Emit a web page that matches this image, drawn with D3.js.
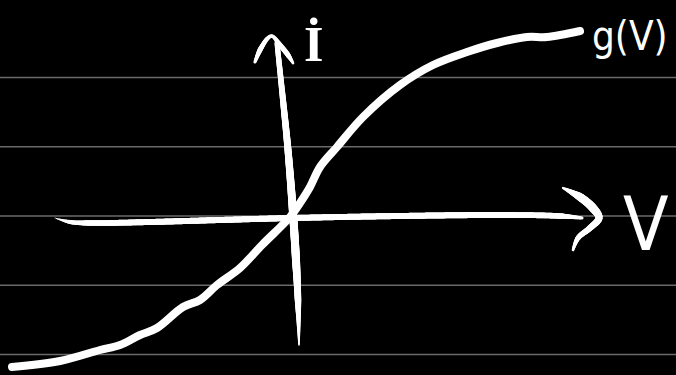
<!DOCTYPE html>
<html>
<head>
<meta charset="utf-8">
<script src="https://cdn.jsdelivr.net/npm/d3@7"></script>
<style>
  html, body { margin: 0; padding: 0; background: #000; }
  svg { display: block; }
</style>
</head>
<body>
<svg id="chart" width="676" height="375"></svg>
<script>
// Ruled paper lines (current units)
const ruleI = [13.85, 6.92, 0, -6.93, -13.85];

// g(V): sketched current–voltage characteristic
const curveV = [-28.1, -23.3, -19.3, -17.3, -15.3, -13.6, -11.0, -9.3, -7.6, -5.3, -3.1, -0.3,
                 0.7, 1.7, 2.7, 4.4, 7.0, 10.7, 14.0, 17.4, 20.4, 23.4, 25.4, 28.7];
const curveI = [-15.1, -14.5, -13.4, -12.9, -11.9, -11.2, -9.1, -8.4, -6.9, -5.2, -2.9, -0.1,
                 1.3, 2.9, 4.9, 6.9, 9.9, 13.1, 15.1, 16.4, 17.3, 17.9, 17.9, 18.5];

// Hand-drawn axes: [V, I, pen width]
const vAxisStroke = [[-23.8, -0.2, 0.5], [-22.3, -0.6, 4], [-20.3, -0.7, 5.5], [-14.3, -0.6, 6],
                     [-7.3, -0.4, 6], [0, -0.2, 6], [10.7, 0, 6], [20.7, 0.1, 6], [26.7, 0, 5.5], [28.9, -0.2, 3]];
const vArrowStroke = [[27, 2.8, 2], [28.7, 1.9, 8], [30, 0.8, 8.5], [30.6, -0.2, 7],
                      [29.7, -1.2, 6], [28.5, -2.2, 5], [28, -3.4, 2.5]];
const iAxisStroke = [[-1.6, 17.3, 5], [-1.0, 11.6, 6], [-0.5, 6.6, 7], [0, 0.3, 8],
                     [0.3, -4.4, 8], [0.5, -8.4, 6.5], [0.6, -12.9, 1.5]];
const iArrowStroke = [[-3.8, 15.4, 3], [-3.3, 16.6, 5], [-2.5, 17.8, 4], [-2.1, 18.0, 3],
                      [-1.3, 17.1, 5], [-0.5, 16.1, 5], [0, 15.3, 2.5]];

const labelV = "V";
const labelI = "İ";
const labelG = "g(V)";

const W = 676, H = 375;
const svg = d3.select("#chart");

const x = d3.scaleLinear().domain([-29.3, 38.3]).range([0, W]);
const y = d3.scaleLinear().domain([21.6, -15.9]).range([0, H]);

svg.append("rect").attr("width", W).attr("height", H).attr("fill", "#000");

// ruled lines
svg.append("g").selectAll("line").data(ruleI).join("line")
  .attr("x1", 0).attr("x2", W)
  .attr("y1", d => y(d)).attr("y2", d => y(d))
  .attr("stroke", "#6a6a6a").attr("stroke-width", 1.5);

// variable-width pen stroke: sample a smooth path and lay down short round-capped segments
function penStroke(pts) {
  const line = d3.line().x(d => x(d[0])).y(d => y(d[1])).curve(d3.curveCatmullRom.alpha(0.5));
  const tmp = svg.append("path").attr("d", line(pts)).attr("fill", "none");
  const node = tmp.node();
  const total = node.getTotalLength();
  const cum = [0];
  for (let k = 1; k < pts.length; k++) {
    const dx = x(pts[k][0]) - x(pts[k - 1][0]), dy = y(pts[k][1]) - y(pts[k - 1][1]);
    cum.push(cum[k - 1] + Math.hypot(dx, dy));
  }
  const widthAt = d3.scaleLinear().domain(cum.map(c => c / cum[cum.length - 1] * total))
    .range(pts.map(p => p[2])).clamp(true);
  tmp.remove();
  const n = Math.max(2, Math.ceil(total / 1.5));
  const samples = d3.range(n + 1).map(k => {
    const p = node.getPointAtLength(total * k / n);
    return { x: p.x, y: p.y, w: widthAt(total * k / n) };
  });
  const g = svg.append("g");
  for (let k = 1; k < samples.length; k++) {
    const a = samples[k - 1], b = samples[k];
    g.append("line")
      .attr("x1", a.x).attr("y1", a.y).attr("x2", b.x).attr("y2", b.y)
      .attr("stroke", "#fff").attr("stroke-linecap", "round")
      .attr("stroke-width", (a.w + b.w) / 2);
  }
}

penStroke(vAxisStroke);
penStroke(vArrowStroke);
penStroke(iAxisStroke);
penStroke(iArrowStroke);

// the characteristic curve
const curveData = curveV.map((v, k) => [v, curveI[k]]);
svg.append("path")
  .attr("d", d3.line().x(d => x(d[0])).y(d => y(d[1])).curve(d3.curveCatmullRom.alpha(0.5))(curveData))
  .attr("fill", "none").attr("stroke", "#fff")
  .attr("stroke-width", 8).attr("stroke-linecap", "round").attr("stroke-linejoin", "round");

// labels
svg.append("text").text(labelV)
  .attr("x", x(33.0)).attr("y", y(-3.4))
  .attr("font-family", "DejaVu Sans Condensed, DejaVu Sans").attr("font-size", 74)
  .attr("fill", "#fff");

svg.append("text").text(labelI)
  .attr("x", x(1.1)).attr("y", y(15.5))
  .attr("font-family", "Liberation Serif").attr("font-weight", "bold").attr("font-size", 50)
  .attr("fill", "#fff");

svg.append("text").text(labelG)
  .attr("x", x(29.9)).attr("y", y(16.6))
  .attr("font-family", "DejaVu Sans Condensed, DejaVu Sans").attr("font-size", 40)
  .attr("fill", "#fff");
</script>
</body>
</html>
